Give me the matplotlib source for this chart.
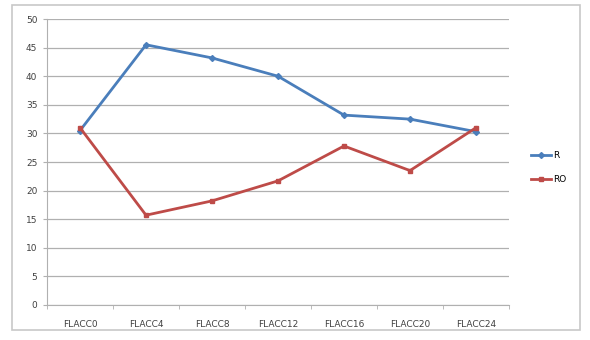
import matplotlib
matplotlib.use("Agg")
import matplotlib.pyplot as plt
from matplotlib.patches import Rectangle
import numpy as np

# --------------------------------------------------------------------------
# データ
# --------------------------------------------------------------------------
categories = ["FLACC0", "FLACC4", "FLACC8", "FLACC12", "FLACC16", "FLACC20", "FLACC24"]
r_values = [30.5, 45.5, 43.2, 40.0, 33.2, 32.5, 30.3]
ro_values = [31.0, 15.7, 18.2, 21.7, 27.8, 23.5, 31.0]
y_ticks = [0, 5, 10, 15, 20, 25, 30, 35, 40, 45, 50]

BLUE = "#4a7ebb"
RED = "#be4b48"

fig = plt.figure(figsize=(5.9, 3.4), dpi=100)
# 外枠（Excel 風）
fig.patches.append(Rectangle((0.02, 0.03), 0.963, 0.955, transform=fig.transFigure,
                             fill=False, edgecolor="#c8c8c8", linewidth=1.2))

ax = fig.add_axes([0.0797, 0.103, 0.783, 0.841])
x = np.arange(len(categories))

ax.plot(x, r_values, color=BLUE, linewidth=2, marker="D", markersize=3,
        label="R")
ax.plot(x, ro_values, color=RED, linewidth=2, marker="s", markersize=3.5,
        label="RO")

ax.set_xlim(-0.5, len(categories) - 0.5)
ax.set_ylim(0, 50)
ax.set_yticks(y_ticks)
ax.yaxis.grid(True, color="#b0b0b0", linewidth=0.9)
ax.set_axisbelow(True)

ax.set_xticks(x)
ax.set_xticklabels(categories, fontsize=6.5, color="#404040")
ax.set_xticks(np.arange(-0.5, len(categories)), minor=True)
ax.tick_params(axis="x", which="major", length=0, pad=11)
ax.tick_params(axis="x", which="minor", length=3, color="#b0b0b0", direction="out")
ax.tick_params(axis="y", labelsize=6.5, labelcolor="#404040", length=3,
               color="#b0b0b0", pad=4)

for side in ["top", "right"]:
    ax.spines[side].set_visible(False)
for side in ["left", "bottom"]:
    ax.spines[side].set_color("#b0b0b0")

ax.legend(loc="center left", bbox_to_anchor=(1.03, 0.48), frameon=False,
          fontsize=6.5, handlelength=2.2, labelspacing=1.7, handletextpad=0.3)

plt.savefig("out.png", dpi=100)
plt.close()
